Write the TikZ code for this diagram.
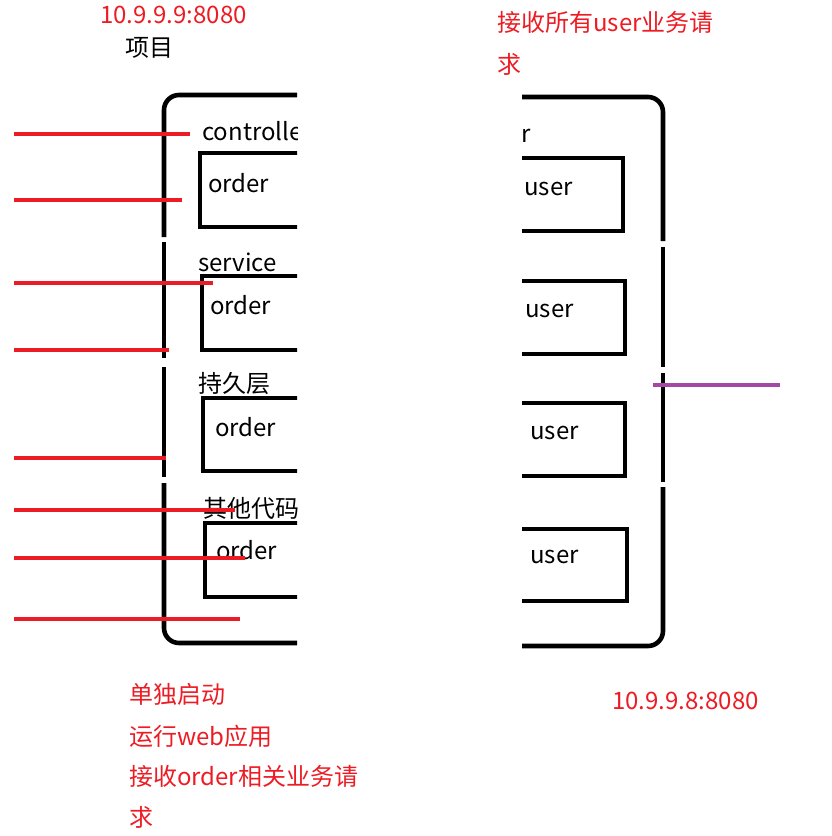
\documentclass[tikz,border=0pt]{standalone}
\usepackage{fontspec}
\setmainfont{Noto Sans CJK SC}
\definecolor{pred}{HTML}{ED1C24}
\definecolor{ppur}{HTML}{A349A4}
\begin{document}
\begin{tikzpicture}[x=1pt,y=-1pt,
  frame/.style={line width=4.6pt,black},
  ibox/.style={line width=4.6pt,black},
  redline/.style={line width=4.3pt,pred},
  lbl/.style={anchor=base west,inner sep=0pt,font=\fontsize{24}{28}\selectfont},
  redtxt/.style={lbl,text=pred}]
\useasboundingbox (0,0) rectangle (831,836);
% left container
\draw[frame,rounded corners=15pt] (297,95) -- (164,95) -- (164,237);
\draw[frame] (164,242) -- (164,358);
\draw[frame] (164,367) -- (164,477);
\draw[frame,rounded corners=15pt] (164,483) -- (164,643) -- (297,643);
\begin{scope}
\clip (150,80) rectangle (297,660);
\draw[ibox] (200,153) rectangle (330,227);
\draw[ibox] (202,276) rectangle (330,350);
\draw[ibox] (203,398) rectangle (330,471);
\draw[ibox] (205,523) rectangle (330,597);
\node[lbl] (ctl) at (202,140) {controller};
\node[lbl] (o1) at (208,192) {order};
\node[lbl] (svc) at (198,271) {service};
\node[lbl] (o2) at (210,314) {order};
\node[lbl] (per) at (198,392) {持久层};
\node[lbl] (o3) at (215,436) {order};
\node[lbl] (oth) at (203,517) {其他代码};
\node[lbl] (o4) at (216,559) {order};
\end{scope}
% right container
\draw[frame,rounded corners=15pt] (522,97) -- (663,97) -- (663,241);
\draw[frame] (663,247) -- (663,367);
\draw[frame] (663,373) -- (663,482);
\draw[frame,rounded corners=15pt] (663,487) -- (663,646) -- (522,646);
\begin{scope}
\clip (522,80) rectangle (700,660);
\draw[ibox] (480,158) rectangle (623,231);
\draw[ibox] (480,281) rectangle (625,354);
\draw[ibox] (480,403) rectangle (625,476);
\draw[ibox] (480,529) rectangle (627,601);
\node[lbl,anchor=base east] (ctr) at (531,142) {controller};
\node[lbl] (u1) at (524,195) {user};
\node[lbl] (u2) at (525,317) {user};
\node[lbl] (u3) at (530,439) {user};
\node[lbl] (u4) at (530,563) {user};
\end{scope}
% red lines
\foreach \i/\y/\xe in {1/134/190,2/200/182,3/283/213,4/350/169,5/458/166,6/510/235,7/558/245,8/619/240}{
  \coordinate (ls\i) at (14,\y);
  \coordinate (le\i) at (\xe,\y);
  \draw[redline] (ls\i) -- (le\i);
}
% purple line
\coordinate (ps) at (653,385);
\coordinate (pe) at (780,385);
\draw[line width=4.3pt,ppur] (ps) -- (pe);
% texts
\node[redtxt] (ip1) at (100,23) {10.9.9.9:8080};
\node[lbl] (proj) at (125,56) {项目};
\node[redtxt] (r1) at (497,31) {接收所有user业务请};
\node[redtxt] (r2) at (497,73) {求};
\node[redtxt] (t1) at (129,703) {单独启动};
\node[redtxt] (t2) at (129,745) {运行web应用};
\node[redtxt] (t3) at (129,785) {接收order相关业务请};
\node[redtxt] (t4) at (129,826) {求};
\node[redtxt] (ip2) at (612,709) {10.9.9.8:8080};
\end{tikzpicture}
\end{document}
